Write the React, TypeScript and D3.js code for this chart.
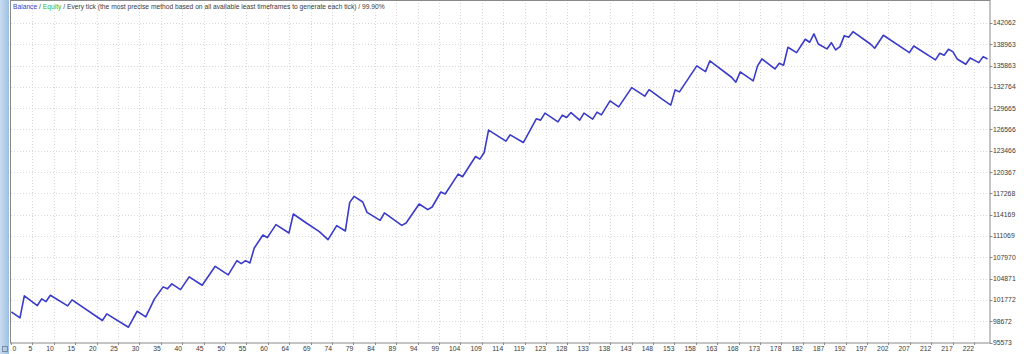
import React from "react";
import * as d3 from "d3";

// Trade index of each visible vertex of the balance line
const tradeIndex = [0,2,3,6,7,8,9,13,14,21,22,27,29,31,33,35,36,37,39,41,44,47,50,52,53,54,55,56,58,59,61,64,65,68,71,73,75,77,78,79,81,82,85,86,90,91,94,96,97,99,100,103,104,107,108,109,110,114,115,118,119,121,122,123,126,127,128,129,131,132,134,135,136,138,140,143,146,147,150,152,153,154,158,160,161,166,167,168,171,172,173,176,177,178,179,181,183,184,185,186,188,189,190,191,192,193,194,198,199,201,207,208,213,214,215,216,217,218,220,221,223,224,225];

// Balance at each vertex
const balance = [100030,99160,102360,100950,101920,101530,102450,100900,101780,98770,99740,97800,100120,99310,101920,103670,103380,104100,103270,105120,103900,106660,105410,107490,107050,107490,107150,109330,111220,110830,112720,111510,114270,112960,111700,110540,112570,111800,115960,116830,116010,114500,113340,114420,112610,112960,115720,114900,115290,117470,117180,120080,119690,122640,122260,123220,126470,124880,125790,124670,125790,128120,127930,128940,127680,128650,128310,129030,127930,128940,128070,129090,128700,130730,129860,132660,131410,132370,130980,130110,132330,132040,135820,134990,136540,134170,133450,134940,133640,135820,136830,135380,136210,135920,138530,137750,139700,139260,140470,139010,138290,139200,138140,138620,140220,139990,140800,139010,138390,140280,137750,138720,136690,137660,137370,138240,137890,136830,136060,136980,136300,137170,136830];

const yTickLabels = [95573,98672,101772,104871,107970,111069,114169,117268,120367,123466,126566,129665,132764,135863,138963,142062];

const xTickLabels = ["0","5","10","15","20","25","30","35","40","45","50","55","60","64","69","74","79","84","89","94","99","104","109","114","119","123","128","133","138","143","148","153","158","163","168","173","178","182","187","192","197","202","207","212","217","222"];

const W = 1024;
const H = 354;
const left = 11;
const right = 990;
const top = 0;
const bottom = 342.5;

export default function App() {
  const x = d3.scaleLinear().domain([0, 225]).range([11.3, 987.5]);
  const y = d3
    .scaleLinear()
    .domain([yTickLabels[0], yTickLabels[yTickLabels.length - 1]])
    .range([bottom, 23]);

  const points: [number, number][] = tradeIndex.map((t, i) => [t, balance[i]]);
  const line = d3
    .line<[number, number]>()
    .x((d) => x(d[0]))
    .y((d) => y(d[1]));

  const lastLabel = +xTickLabels[xTickLabels.length - 1];
  const step = lastLabel / (xTickLabels.length - 1);
  const xTickPos = xTickLabels.map((_, i) => x(i * step) - 0.4);

  const font = "'Liberation Sans', Arial, sans-serif";
  const grid = "#dadada";

  return (
    <svg
      width={W}
      height={H}
      style={{ position: "absolute", left: 0, top: 0, background: "#ffffff" }}
    >
      <defs>
        <linearGradient id="bar" x1="0" x2="1" y1="0" y2="0">
          <stop offset="0" stopColor="#c9dcf1" />
          <stop offset="1" stopColor="#9ebfe2" />
        </linearGradient>
      </defs>
      <rect x={0} y={0} width={W} height={H} fill="#ffffff" />
      <rect x={0} y={0} width={9} height={H} fill="url(#bar)" />
      <rect x={2.5} y={346.5} width={5} height={5} fill="none" stroke="#7a8aa0" strokeWidth={1} />

      {/* horizontal grid */}
      {yTickLabels.slice(1).map((v) => (
        <line
          key={"hg" + v}
          x1={left}
          x2={right}
          y1={Math.round(y(v)) + 0.5}
          y2={Math.round(y(v)) + 0.5}
          stroke={grid}
          strokeDasharray="1,2"
        />
      ))}
      {/* vertical grid */}
      {xTickPos.slice(1).map((px, i) => (
        <line
          key={"vg" + i}
          x1={Math.round(px) + 0.5}
          x2={Math.round(px) + 0.5}
          y1={top}
          y2={bottom}
          stroke={grid}
          strokeDasharray="1,2"
        />
      ))}

      {/* frame */}
      <rect
        x={left - 0.5}
        y={top + 0.5}
        width={right - left + 0.5}
        height={bottom - top}
        fill="none"
        stroke="#8a8a8a"
        strokeWidth={1}
      />

      {/* x ticks and labels */}
      {xTickPos.map((px, i) => (
        <g key={"xt" + i}>
          <line
            x1={Math.round(px) + 0.5}
            x2={Math.round(px) + 0.5}
            y1={bottom}
            y2={bottom + 2.5}
            stroke="#8a8a8a"
          />
          <text
            x={i === 0 ? px + 1.5 : px}
            y={350.5}
            fontFamily={font}
            fontSize={6.8}
            fill="#3a3a3a"
            textAnchor={i === 0 ? "start" : "end"}
          >
            {xTickLabels[i]}
          </text>
        </g>
      ))}

      {/* y ticks and labels */}
      {yTickLabels.map((v) => (
        <g key={"yt" + v}>
          <line x1={right} x2={right + 2.5} y1={Math.round(y(v)) + 0.5} y2={Math.round(y(v)) + 0.5} stroke="#8a8a8a" />
          <text
            x={993}
            y={y(v) + 2.4}
            fontFamily={font}
            fontSize={6.8}
            fill="#3a3a3a"
          >
            {v}
          </text>
        </g>
      ))}

      {/* balance line */}
      <path d={line(points) || ""} fill="none" stroke="#3a3acb" strokeWidth={1.6} strokeLinejoin="round" />

      {/* legend */}
      <text x={13} y={8.5} fontFamily={font} fontSize={6.7} fill="#3a3a3a">
        <tspan fill="#3a3acb">Balance</tspan>
        <tspan> / </tspan>
        <tspan fill="#2eb82e">Equity</tspan>
        <tspan> / Every tick (the most precise method based on all available least timeframes to generate each tick) / 99.90%</tspan>
      </text>
    </svg>
  );
}
